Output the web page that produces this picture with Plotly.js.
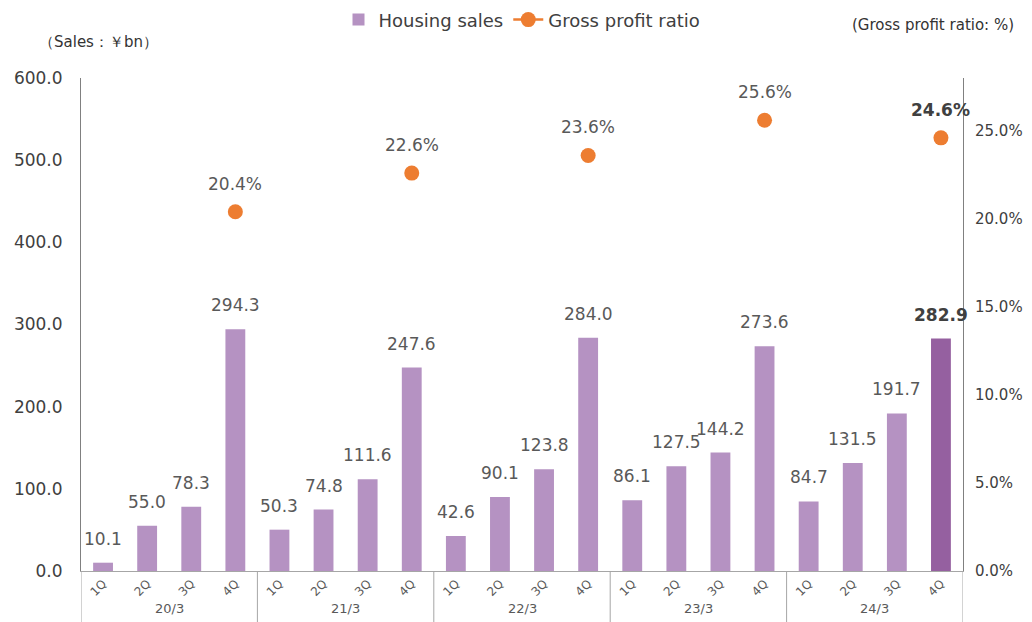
<!DOCTYPE html>
<html>
<head>
<meta charset="utf-8">
<script src="https://cdn.plot.ly/plotly-3.0.1.min.js"></script>
<style>html,body{margin:0;padding:0;background:#fff;}#chart{width:1032px;height:622px;}</style>
</head>
<body>
<div id="chart"></div>
<script>
const fiscalYears = ['20/3', '21/3', '22/3', '23/3', '24/3'];
const quarters = ['1Q', '2Q', '3Q', '4Q'];
const housingSales = [10.1, 55.0, 78.3, 294.3, 50.3, 74.8, 111.6, 247.6, 42.6, 90.1, 123.8, 284.0, 86.1, 127.5, 144.2, 273.6, 84.7, 131.5, 191.7, 282.9];
const grossProfitRatio = [null, null, null, 20.4, null, null, null, 22.6, null, null, null, 23.6, null, null, null, 25.6, null, null, null, 24.6];

const cats = [], qLabels = [];
fiscalYears.forEach(y => quarters.forEach(q => { cats.push(y + ' ' + q); qLabels.push(q); }));
const n = housingSales.length;
const nq = quarters.length;
const barColors = housingSales.map((v, i) => i === n - 1 ? '#9560A0' : '#B592C2');

const FONT = 'DejaVu Sans, Verdana, sans-serif';
const GRAY = '#595959';
const PLOT_H = 622 - 78 - 51;

const annotations = [];
housingSales.forEach((v, i) => {
  const last = i === n - 1;
  annotations.push({
    x: i, y: v, xref: 'x', yref: 'y', yshift: 24, showarrow: false,
    text: last ? '<b>' + v.toFixed(1) + '</b>' : v.toFixed(1),
    font: {family: FONT, size: 17, color: last ? '#404040' : GRAY}
  });
});
grossProfitRatio.forEach((v, i) => {
  if (v === null) return;
  const last = i === n - 1;
  annotations.push({
    x: i, y: v, xref: 'x', yref: 'y2', yshift: 28, showarrow: false,
    text: last ? '<b>' + v.toFixed(1) + '%</b>' : v.toFixed(1) + '%',
    font: {family: FONT, size: 17, color: last ? '#404040' : GRAY}
  });
});
const shapes = [];
fiscalYears.forEach((y, g) => {
  annotations.push({
    x: g * nq + (nq - 1) / 2, xref: 'x', yref: 'paper', y: -37 / PLOT_H, yanchor: 'middle',
    text: y, showarrow: false, font: {family: FONT, size: 13, color: GRAY}
  });
  shapes.push({
    type: 'line', xref: 'x', yref: 'paper', x0: g * nq - 0.5, x1: g * nq - 0.5,
    y0: 0, y1: -51 / PLOT_H, line: {color: '#A6A6A6', width: 1}
  });
});
shapes.push({
  type: 'line', xref: 'x', yref: 'paper', x0: n - 0.5, x1: n - 0.5,
  y0: 0, y1: -51 / PLOT_H, line: {color: '#A6A6A6', width: 1}
});
annotations.push({
  xref: 'paper', yref: 'paper', x: -0.05, y: (571 - 42) / PLOT_H, xanchor: 'left', yanchor: 'middle',
  text: '（Sales：￥bn）', showarrow: false, font: {family: FONT, size: 15, color: '#333'}
});
annotations.push({
  xref: 'paper', yref: 'paper', x: 1.06, y: (571 - 25) / PLOT_H, xanchor: 'right', yanchor: 'middle',
  text: '(Gross profit ratio: %)', showarrow: false, font: {family: FONT, size: 15, color: '#333'}
});

const traces = [
  {
    type: 'bar', name: 'Housing sales', x: cats, y: housingSales,
    marker: {color: barColors}, width: 0.45, cliponaxis: false
  },
  {
    type: 'scatter', mode: 'lines+markers', name: 'Gross profit ratio', x: cats, y: grossProfitRatio,
    yaxis: 'y2', connectgaps: false,
    marker: {color: '#ED7D31', size: 15}, line: {color: '#ED7D31', width: 2.5}, cliponaxis: false
  }
];

const layout = {
  width: 1032, height: 622,
  margin: {l: 81, r: 69, t: 78, b: 51},
  paper_bgcolor: '#fff', plot_bgcolor: '#fff',
  font: {family: FONT, color: GRAY},
  showlegend: true,
  legend: {
    orientation: 'h', x: 0.5, xanchor: 'center', xref: 'paper',
    y: 0.968, yref: 'container', yanchor: 'middle',
    font: {family: FONT, size: 18, color: '#404040'}, itemwidth: 30, traceorder: 'normal'
  },
  xaxis: {
    type: 'category', range: [-0.5, n - 0.5], tickvals: cats, ticktext: qLabels,
    showline: true, linecolor: '#A6A6A6', linewidth: 1,
    tickangle: -45, tickfont: {family: FONT, size: 12, color: GRAY},
    ticks: '', showgrid: false, zeroline: false
  },
  yaxis: {
    range: [0, 600], dtick: 100, tickformat: '.1f', showgrid: false, zeroline: false,
    showline: true, linecolor: '#808080', linewidth: 1, ticks: '',
    ticklabelstandoff: 14,
    tickfont: {family: FONT, size: 17, color: '#404040'}
  },
  yaxis2: {
    overlaying: 'y', side: 'right', range: [0, 28.0], dtick: 5, tickformat: '.1f', ticksuffix: '%',
    showgrid: false, zeroline: false, showline: true, linecolor: '#808080', linewidth: 1, ticks: '',
    ticklabelstandoff: 8,
    tickfont: {family: FONT, size: 15, color: '#404040'}
  },
  shapes: shapes,
  annotations: annotations
};

Plotly.newPlot('chart', traces, layout, {displayModeBar: false, staticPlot: true});
</script>
</body>
</html>
